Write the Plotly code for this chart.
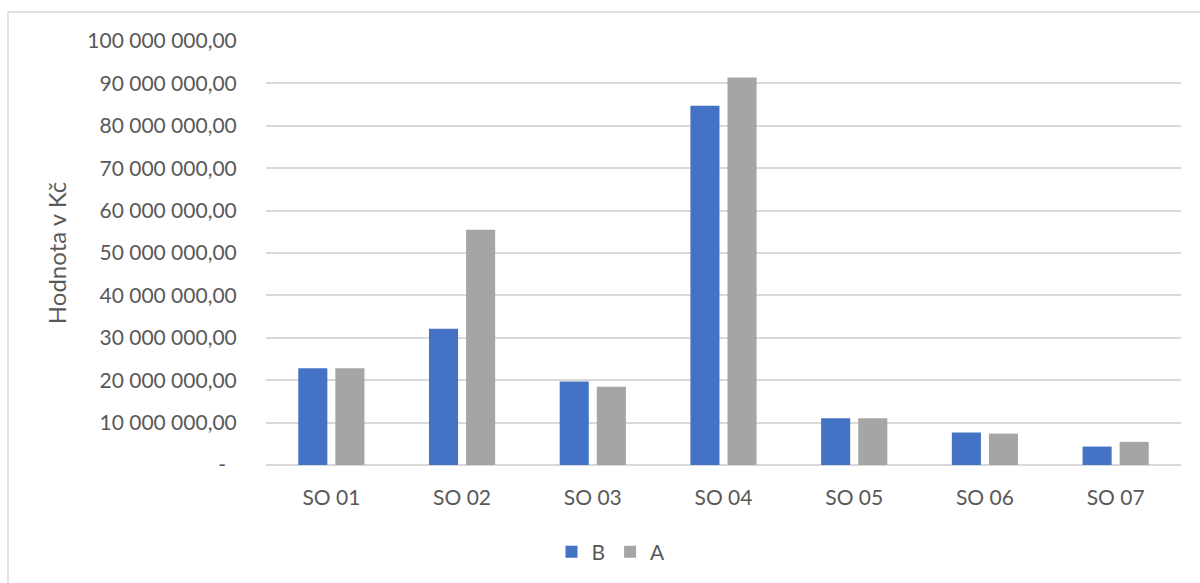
import plotly.graph_objects as go

# Stavební objekty a jejich hodnoty v Kč
categories = ["SO 01", "SO 02", "SO 03", "SO 04", "SO 05", "SO 06", "SO 07"]
values_b = [22_800_000, 32_150_000, 19_700_000, 84_700_000, 11_000_000, 7_650_000, 4_350_000]
values_a = [22_800_000, 55_500_000, 18_450_000, 91_400_000, 11_000_000, 7_400_000, 5_450_000]
series_names = ["B", "A"]

y_ticks = [i * 10_000_000 for i in range(11)]


def czk(v):
    # Účetní formát: mezery jako oddělovač tisíců, desetinná čárka, nula jako pomlčka
    if v == 0:
        return "-\u00a0\u00a0"
    return f"{v:,.2f}".replace(",", " ").replace(".", ",")


y_ticktext = [czk(v) for v in y_ticks]

FONT = "Lato, 'Open Sans', sans-serif"
TEXT = "#595959"
GRID = "#d9d9d9"

fig = go.Figure()
fig.add_trace(go.Bar(name=series_names[0], x=categories, y=values_b,
                     marker=dict(color="#4472C4", line=dict(width=0))))
fig.add_trace(go.Bar(name=series_names[1], x=categories, y=values_a,
                     marker=dict(color="#A5A5A5", line=dict(width=0))))

W, H = 1200, 583
ml, mr, mt, mb = 266, 19, 41, 117
pw, ph = W - ml - mr, H - mt - mb


def px_x(p):
    return (p - ml) / pw


def px_y(p):
    return (H - mb - p) / ph


fig.update_layout(
    width=W, height=H,
    margin=dict(l=ml, r=mr, t=mt, b=mb),
    paper_bgcolor="white", plot_bgcolor="white",
    barmode="group", bargap=0.4325, bargroupgap=0.216,
    font=dict(family=FONT, size=21, color=TEXT),
    showlegend=True,
    legend=dict(orientation="h", x=px_x(611), y=px_y(552),
                xanchor="center", yanchor="middle",
                font=dict(family=FONT, size=21, color=TEXT),
                itemwidth=30, tracegroupgap=0),
    xaxis=dict(showgrid=False, showline=False, zeroline=False,
               ticks="outside", ticklen=14, tickcolor="rgba(0,0,0,0)",
               tickfont=dict(family=FONT, size=21, color=TEXT)),
    yaxis=dict(range=[0, 100_000_000], tickvals=y_ticks, ticktext=y_ticktext,
               showgrid=True, gridcolor=GRID, gridwidth=1.5,
               zeroline=True, zerolinecolor=GRID, zerolinewidth=1.5,
               showline=False,
               ticks="outside", ticklen=24, tickcolor="rgba(0,0,0,0)",
               tickfont=dict(family=FONT, size=21, color=TEXT),
               title=dict(text="Hodnota v Kč", standoff=13,
                          font=dict(family=FONT, size=24, color=TEXT))),
    shapes=[dict(type="rect", xref="paper", yref="paper",
                 x0=px_x(8), x1=px_x(1260), y0=px_y(640), y1=px_y(12),
                 line=dict(color=GRID, width=1.5), layer="below")],
)

fig.write_html("out.html")
